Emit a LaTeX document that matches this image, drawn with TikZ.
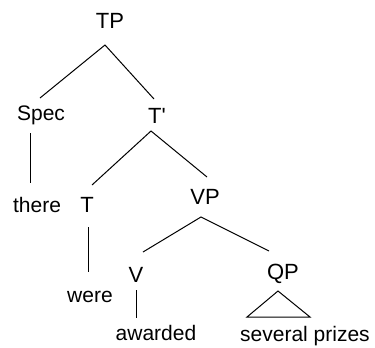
\documentclass[tikz,border=0pt]{standalone}
\usepackage{fontspec}
\setmainfont{Liberation Sans}
\begin{document}
\begin{tikzpicture}[x=0.75pt,y=-0.75pt,
  lab/.style={anchor=base,inner sep=0pt,font=\fontsize{15.75}{18}\selectfont},
  cat/.style={anchor=base,inner sep=0pt,font=\fontsize{16.5}{19}\selectfont},
  edge/.style={line width=0.75pt,black}]
\useasboundingbox (0,0) rectangle (375,347);
\node[cat] (TP) at (110,28) {TP};
\node[lab] (Spec) at (41,120) {Spec};
\node[cat] (Tbar) at (157,123) {T\textquotesingle};
\node[lab] (there) at (37,212) {there};
\node[cat] (T) at (87,212) {T};
\node[cat] (VP) at (205,204) {VP};
\node[cat] (V) at (136,282) {V};
\node[cat] (QP) at (283,279) {QP};
\node[lab] (were) at (90,302) {were};
\node[lab] (awarded) at (156,340) {awarded};
\node[lab] (prizes) at (305,341) {several prizes};
% TP
\draw[edge] ([shift={(-1,-22)}]Spec.base) -- ([shift={(-5,17)}]TP.base) -- ([shift={(-3,-24)}]Tbar.base);
\draw[edge] ([shift={(-11,13)}]Spec.base) -- ([shift={(-7,-29)}]there.base);
% T'
\draw[edge] ([shift={(5,-27)}]T.base) -- ([shift={(-6,8)}]Tbar.base) -- ([shift={(2,-27)}]VP.base);
\draw[edge] ([shift={(1,15)}]T.base) -- ([shift={(-2,-30)}]were.base);
% VP
\draw[edge] ([shift={(7,-30)}]V.base) -- ([shift={(-4,13)}]VP.base) -- ([shift={(-14,-28)}]QP.base);
\draw[edge] ([shift={(0,8)}]V.base) -- ([shift={(-20,-22)}]awarded.base);
% QP triangle
\draw[edge] ([shift={(-5,12)}]QP.base) -- ([shift={(-58,-24)}]prizes.base) -- ([shift={(5,-24)}]prizes.base) -- cycle;
\end{tikzpicture}
\end{document}
